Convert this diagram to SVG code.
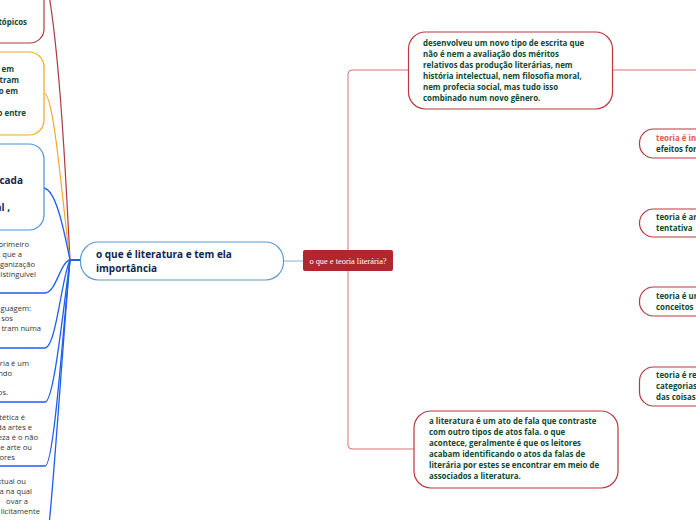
<svg xmlns="http://www.w3.org/2000/svg" width="696" height="520" viewBox="0 0 696 520">
<style>
.bg{fill:#ffffff}
.bt{font-family:"Open Sans","Noto Sans",sans-serif;font-weight:bold;font-size:7.9px;fill:#0d4a30}
.lt{font-family:"Open Sans","Noto Sans",sans-serif;font-size:7.6px;fill:#333333}
.ct{font-family:"Open Sans","Noto Sans",sans-serif;font-weight:bold;font-size:10px;fill:#0f2750}
.st{font-family:"Liberation Serif","Times New Roman",serif;font-size:8.4px;fill:#ffffff}
.rb{fill:#ffffff;stroke:#b8383d;stroke-width:1.2}
.rl{fill:none;stroke:#dd7073;stroke-width:1}
.bl{fill:none;stroke:#1f5ef0;stroke-width:1.3}
</style>
<rect class="bg" x="0" y="0" width="696" height="520"/>
<g id="connectors">
  <path class="rl" d="M408,70 L352,70 Q348,70 348,74 L348,445 Q348,449 352,449 L414,449"/>
  <path class="rl" d="M613,70 L700,70"/>
  <path d="M283,261 L303,261" fill="none" stroke="#9cc3ec" stroke-width="1.3"/>
  <path d="M49,-5 C60,60 66,180 70,260" fill="none" stroke="#b03a3f" stroke-width="1.2"/>
  <path d="M44,93 C54,93 62,200 70,260" fill="none" stroke="#f5a623" stroke-width="1.2"/>
  <path class="bl" d="M44,188 C56,190 64,230 70,260"/>
  <path d="M70,260 L81,260" fill="none" stroke="#1f5ef0" stroke-width="2"/>
  <path class="bl" d="M70,260 C60,262 56,293 45,293 L-5,293"/>
  <path class="bl" d="M70,260 C62,275 56,348 45,348 L-5,348"/>
  <path class="bl" d="M70,260 C63,310 54,402 45,402 L-5,402"/>
  <path class="bl" d="M70,260 C63,330 54,466 45,466 L-5,466"/>
  <path class="bl" d="M70,260 C63,340 54,480 49,525"/>
</g>
<g id="node-a">
  <rect x="-40" y="-20" width="84" height="63" rx="14" fill="#ffffff" stroke="#b03a3f" stroke-width="1.2"/>
  <text class="bt" x="27" y="25" text-anchor="end">tópicos</text>
</g>
<g id="node-b">
  <rect x="-40" y="52" width="84" height="83" rx="15" fill="#ffffff" stroke="#f5a623" stroke-width="1.2"/>
  <text class="bt" text-anchor="end"><tspan x="14" y="72">em</tspan><tspan x="19" y="83">tram</tspan><tspan x="18" y="94">o em</tspan><tspan x="26" y="116">o entre</tspan></text>
</g>
<g id="node-c">
  <rect x="-40" y="144" width="84" height="86" rx="15" fill="#ffffff" stroke="#4a90d9" stroke-width="1.2"/>
  <text class="ct" text-anchor="end"><tspan x="23" y="184">cada</tspan><tspan x="10" y="211">al ,</tspan></text>
</g>
<g id="node-d">
  <text class="lt" text-anchor="end"><tspan x="29" y="247">primeiro</tspan><tspan x="22" y="257">z que a</tspan><tspan x="35" y="267">ganização</tspan><tspan x="36" y="277">distinguível</tspan></text>
</g>
<g id="node-e">
  <text class="lt" text-anchor="end"><tspan x="31" y="311">guagem:</tspan><tspan x="13" y="321">sos</tspan><tspan x="41" y="331">tram numa</tspan></text>
</g>
<g id="node-f">
  <text class="lt" text-anchor="end"><tspan x="29" y="366">ária é um</tspan><tspan x="12" y="376">ndo</tspan><tspan x="8" y="395">os.</tspan></text>
</g>
<g id="node-g">
  <text class="lt" text-anchor="end"><tspan x="25" y="420">stética é</tspan><tspan x="32" y="430">da artes e</tspan><tspan x="38" y="440">eza é o não</tspan><tspan x="32" y="450">e arte ou</tspan><tspan x="15" y="460">ores</tspan></text>
</g>
<g id="node-h">
  <text class="lt" text-anchor="end"><tspan x="26" y="484">xtual ou</tspan><tspan x="32" y="494">a na qual</tspan><tspan x="28" y="504">ovar a</tspan><tspan x="40" y="514">licitamente</tspan></text>
</g>
<g id="central">
  <rect x="80.5" y="242" width="203" height="38" rx="18" fill="#ffffff" stroke="#5b9bd5" stroke-width="1.2"/>
  <text class="ct"><tspan x="96" y="258">o que é literatura e tem ela</tspan><tspan x="96" y="272">importância</tspan></text>
</g>
<g id="teoria">
  <rect x="303" y="250" width="90" height="21" rx="2" fill="#b0282d"/>
  <text class="st" x="348" y="263.5" text-anchor="middle">o que e teoria literária?</text>
</g>
<g id="node-top">
  <rect class="rb" x="408.5" y="32" width="204" height="77" rx="17"/>
  <text class="bt"><tspan x="423" y="46">desenvolveu um novo tipo de escrita que</tspan><tspan x="423" y="57">não é nem a avaliação dos méritos</tspan><tspan x="423" y="68">relativos das produção literárias, nem</tspan><tspan x="423" y="79">história intelectual, nem filosofia moral,</tspan><tspan x="423" y="90">nem profecia social, mas tudo isso</tspan><tspan x="423" y="101">combinado num novo gênero.</tspan></text>
</g>
<g id="node-bottom">
  <rect class="rb" x="414" y="411" width="204" height="77" rx="17"/>
  <text class="bt"><tspan x="429" y="424">a literatura é um ato de fala que contraste</tspan><tspan x="429" y="435">com outro tipos de atos fala. o que</tspan><tspan x="429" y="446">acontece, geralmente é que os leitores</tspan><tspan x="429" y="457">acabam identificando o atos da falas de</tspan><tspan x="429" y="468">literária por estes se encontrar em meio de</tspan><tspan x="429" y="479">associados a literatura.</tspan></text>
</g>
<g id="node-r1">
  <rect class="rb" x="639.5" y="129" width="90" height="29" rx="14"/>
  <text class="bt"><tspan x="656" y="141" fill="#e8554e">teoria é in</tspan><tspan x="656" y="152">efeitos for</tspan></text>
</g>
<g id="node-r2">
  <rect class="rb" x="639.5" y="209" width="90" height="28" rx="14"/>
  <text class="bt"><tspan x="656" y="220">teoria é ar</tspan><tspan x="656" y="231">tentativa</tspan></text>
</g>
<g id="node-r3">
  <rect class="rb" x="639.5" y="287" width="90" height="29" rx="14"/>
  <text class="bt"><tspan x="656" y="299">teoria é ur</tspan><tspan x="656" y="310">conceitos</tspan></text>
</g>
<g id="node-r4">
  <rect class="rb" x="639.5" y="367" width="90" height="39" rx="14"/>
  <text class="bt"><tspan x="656" y="378">teoria é re</tspan><tspan x="656" y="389">categorias</tspan><tspan x="656" y="400">das coisas</tspan></text>
</g>
</svg>
